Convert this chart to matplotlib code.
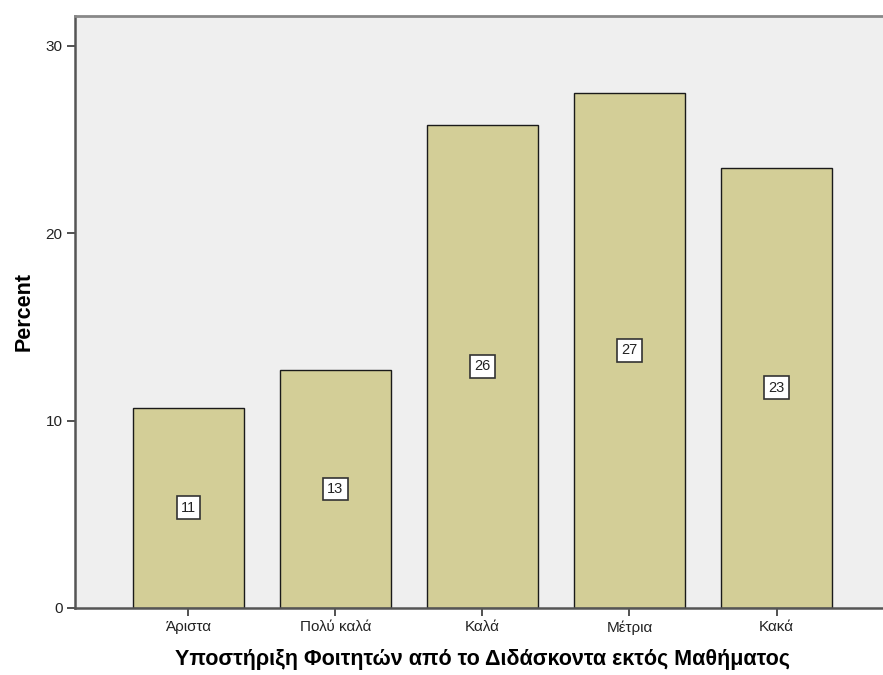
import matplotlib
matplotlib.use("Agg")
import matplotlib.pyplot as plt

plt.rcParams['font.family'] = ['Liberation Sans', 'DejaVu Sans']

categories = ['Άριστα', 'Πολύ καλά', 'Καλά', 'Μέτρια', 'Κακά']
percent = [10.7, 12.7, 25.8, 27.5, 23.5]
bar_labels = ['11', '13', '26', '27', '23']
yticks = [0, 10, 20, 30]

fig = plt.figure(figsize=(8.83, 6.75), dpi=100)
ax = fig.add_axes([0.0849, 0.0993, 0.9227, 0.877])
ax.set_facecolor('#EFEFEF')

x = range(len(categories))
ax.bar(x, percent, width=0.755, color='#D3CE97', edgecolor='#1a1a1a', linewidth=1.0, zorder=2)

for i, (v, lab) in enumerate(zip(percent, bar_labels)):
    ax.text(i, v / 2, lab, ha='center', va='center', fontsize=10.5, color='#222222',
            bbox=dict(boxstyle='square,pad=0.3', facecolor='white', edgecolor='#333333', linewidth=1.2),
            zorder=3)

ax.set_xlim(-0.772, 4.77)
ax.set_ylim(0, 31.6)
ax.set_xticks(list(x))
ax.set_xticklabels(categories, fontsize=11, color='#222222')
ax.set_yticks(yticks)
ax.set_yticklabels([str(t) for t in yticks], fontsize=11, color='#222222')
ax.tick_params(axis='both', direction='out', length=6, width=1.2, color='#333333', pad=3)

for side in ['left', 'bottom']:
    ax.spines[side].set_color('#555555')
    ax.spines[side].set_linewidth(1.8)
ax.spines['top'].set_color('#888888')
ax.spines['top'].set_linewidth(2.0)
ax.spines['right'].set_visible(False)

ax.set_xlabel('Υποστήριξη Φοιτητών από το Διδάσκοντα εκτός Μαθήματος', fontsize=15.5,
              fontweight='bold', labelpad=10)
ax.set_ylabel('Percent', fontsize=15.5, fontweight='bold', labelpad=8)

fig.savefig('out.png', dpi=100)
